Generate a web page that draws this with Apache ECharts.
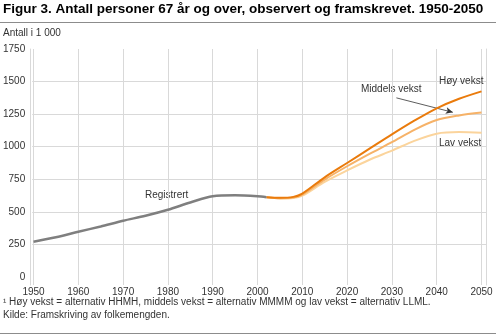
<!DOCTYPE html>
<html>
<head>
<meta charset="utf-8">
<script src="https://cdn.jsdelivr.net/npm/echarts@6/dist/echarts.min.js"></script>
<style>html,body{margin:0;padding:0;background:#fff;}#c{width:496px;height:336px;}</style>
</head>
<body>
<div id="c"></div>
<script>
// ---- data ----
const registrertYears = [1950, 1955, 1960, 1965, 1970, 1975, 1980, 1985, 1990, 1995, 2000, 2002];
const registrertValues = [271, 305, 347, 388, 432, 470, 516, 572, 620, 627, 620, 613];

const projYears = [2002, 2005, 2008, 2010, 2015, 2020, 2025, 2030, 2035, 2040, 2045, 2050];
const hoyValues = [613, 608, 615, 640, 765, 875, 985, 1095, 1200, 1295, 1368, 1425];
const middelsValues = [613, 605, 610, 632, 748, 850, 945, 1035, 1130, 1205, 1240, 1262];
const lavValues = [613, 602, 606, 624, 730, 818, 900, 970, 1045, 1100, 1112, 1108];

const yTicks = [0, 250, 500, 750, 1000, 1250, 1500, 1750];
const xTicks = [1950, 1960, 1970, 1980, 1990, 2000, 2010, 2020, 2030, 2040, 2050];

const arrowFrom = [2031, 1375];
const arrowTo = [2043.6, 1264];

const titleText = 'Figur 3. Antall personer 67 år og over, observert og framskrevet. 1950-2050';
const unitText = 'Antall i 1 000';
const noteText = '\u00b9 Høy vekst = alternativ HHMH, middels vekst = alternativ MMMM og lav vekst = alternativ LLML.';
const sourceText = 'Kilde: Framskriving av folkemengden.';

// ---- chart ----
const zip = (xs, ys) => xs.map((x, i) => [x, ys[i]]);
const FONT = '"Liberation Sans", Arial, sans-serif';
const GRID = '#d9d9d9';
const TXT = '#333';
const plain = v => String(v);

const chart = echarts.init(document.getElementById('c'), null, {renderer: 'canvas'});
chart.setOption({
  animation: false,
  backgroundColor: '#fff',
  textStyle: {fontFamily: FONT},
  grid: [
    {left: 33.5, right: 14.5, top: 49, bottom: 59},   // 0: series
    {left: 30, right: 10, top: 49, bottom: 59},       // 1: horizontal lines + y labels
    {left: 33.5, right: 14.5, top: 49, bottom: 51},   // 2: vertical lines
    {left: 30, right: 10, top: 49, bottom: 51}        // 3: outer side lines
  ],
  xAxis: [
    {gridIndex: 0, type: 'value', min: xTicks[0], max: xTicks[xTicks.length - 1], interval: 10,
     axisLine: {show: false}, axisTick: {show: false}, splitLine: {show: false},
     axisLabel: {fontSize: 10, color: TXT, margin: 10, fontFamily: FONT, formatter: plain}},
    {gridIndex: 1, type: 'value', min: 0, max: 1, show: false},
    {gridIndex: 2, type: 'value', min: xTicks[0], max: xTicks[xTicks.length - 1], interval: 10,
     axisLine: {show: false}, axisTick: {show: false}, axisLabel: {show: false},
     splitLine: {show: true, lineStyle: {color: GRID, width: 1}}},
    {gridIndex: 3, type: 'value', min: 0, max: 1, show: false}
  ],
  yAxis: [
    {gridIndex: 0, type: 'value', min: yTicks[0], max: yTicks[yTicks.length - 1], interval: 250, show: false},
    {gridIndex: 1, type: 'value', min: yTicks[0], max: yTicks[yTicks.length - 1], interval: 250,
     axisLine: {show: false}, axisTick: {show: false},
     axisLabel: {fontSize: 10, color: TXT, margin: 7, fontFamily: FONT, formatter: plain},
     splitLine: {show: true, showMinLine: false, showMaxLine: false, lineStyle: {color: GRID, width: 1}}},
    {gridIndex: 2, type: 'value', min: 0, max: 1, show: false},
    {gridIndex: 3, type: 'value', min: 0, max: 1, position: 'left',
     axisLine: {show: true, lineStyle: {color: GRID, width: 1}},
     axisTick: {show: false}, axisLabel: {show: false}, splitLine: {show: false}},
    {gridIndex: 3, type: 'value', min: 0, max: 1, position: 'right',
     axisLine: {show: true, lineStyle: {color: GRID, width: 1}},
     axisTick: {show: false}, axisLabel: {show: false}, splitLine: {show: false}}
  ],
  series: [
    {name: 'Lav vekst', type: 'line', xAxisIndex: 0, yAxisIndex: 0, data: zip(projYears, lavValues),
     smooth: 0.3, showSymbol: false, lineStyle: {color: '#fbd49c', width: 2}, z: 3},
    {name: 'Middels vekst', type: 'line', xAxisIndex: 0, yAxisIndex: 0, data: zip(projYears, middelsValues),
     smooth: 0.3, showSymbol: false, lineStyle: {color: '#f6b268', width: 2}, z: 4,
     markLine: {silent: true, symbol: ['none', 'arrow'], symbolSize: [5, 7],
       label: {show: false}, lineStyle: {color: '#333', width: 0.8, type: 'solid'},
       data: [[{coord: arrowFrom}, {coord: arrowTo}]]}},
    {name: 'Høy vekst', type: 'line', xAxisIndex: 0, yAxisIndex: 0, data: zip(projYears, hoyValues),
     smooth: 0.3, showSymbol: false, lineStyle: {color: '#ea7b0c', width: 2}, z: 5},
    {name: 'Registrert', type: 'line', xAxisIndex: 0, yAxisIndex: 0, data: zip(registrertYears, registrertValues),
     smooth: 0.3, showSymbol: false, lineStyle: {color: '#7f7f7f', width: 2.5}, z: 6}
  ],
  graphic: [
    {type: 'text', left: 3, top: 2, style: {text: titleText, font: 'bold 13.5px ' + FONT, fill: '#000'}},
    {type: 'line', shape: {x1: 0, y1: 22.5, x2: 496, y2: 22.5}, style: {stroke: '#8c8c8c', lineWidth: 1}},
    {type: 'text', left: 3, top: 28, style: {text: unitText, font: '10px ' + FONT, fill: TXT}},
    {type: 'text', x: 145, y: 195, style: {text: 'Registrert', font: '10px ' + FONT, fill: TXT, verticalAlign: 'middle'}},
    {type: 'text', x: 361, y: 89, style: {text: 'Middels vekst', font: '10px ' + FONT, fill: TXT, verticalAlign: 'middle'}},
    {type: 'text', x: 439, y: 81.5, z: 100, style: {text: 'Høy vekst', font: '10px ' + FONT, fill: TXT, verticalAlign: 'middle'}},
    {type: 'text', x: 439, y: 143, style: {text: 'Lav vekst', font: '10px ' + FONT, fill: TXT, verticalAlign: 'middle'}},
    {type: 'text', x: 3, y: 302, style: {text: noteText, font: '10px ' + FONT, fill: TXT, verticalAlign: 'middle'}},
    {type: 'text', x: 3, y: 315, style: {text: sourceText, font: '10px ' + FONT, fill: TXT, verticalAlign: 'middle'}},
    {type: 'line', shape: {x1: 0, y1: 333.5, x2: 496, y2: 333.5}, style: {stroke: '#8c8c8c', lineWidth: 1}}
  ]
});
</script>
</body>
</html>
